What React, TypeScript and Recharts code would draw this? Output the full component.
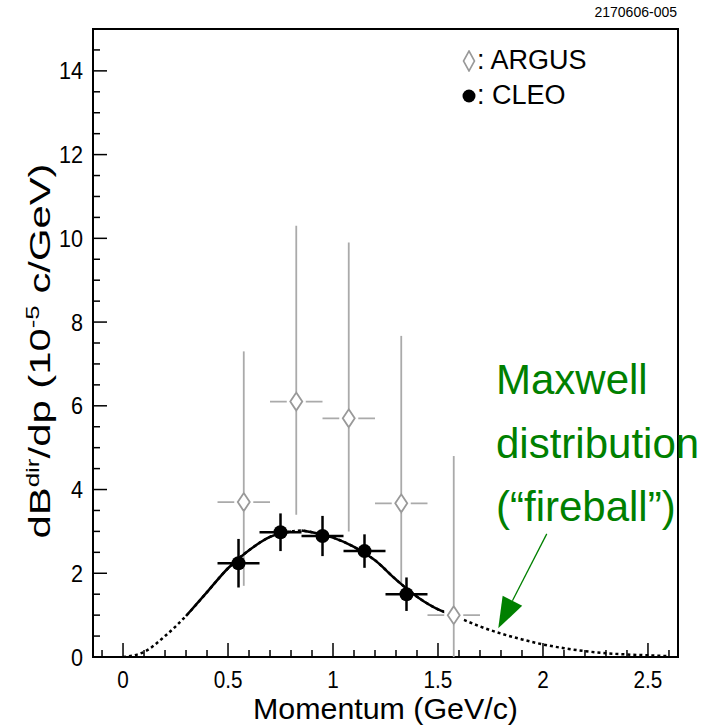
import React from "react";
import {
  ComposedChart,
  Line,
  Scatter,
  ErrorBar,
  XAxis,
  YAxis,
  ReferenceArea,
  ReferenceLine,
  Legend,
} from "recharts";

const FONT = "'Liberation Sans', Arial, Helvetica, sans-serif";

// axis ticks (minor every 0.1 / 0.5, labels on majors)
const xTicks = [
  -0.1, 0, 0.1, 0.2, 0.3, 0.4, 0.5, 0.6, 0.7, 0.8, 0.9, 1, 1.1, 1.2, 1.3, 1.4,
  1.5, 1.6, 1.7, 1.8, 1.9, 2, 2.1, 2.2, 2.3, 2.4, 2.5, 2.6,
];
const xLabels = [0, 0.5, 1, 1.5, 2, 2.5];
const yTicks = [
  0, 0.5, 1, 1.5, 2, 2.5, 3, 3.5, 4, 4.5, 5, 5.5, 6, 6.5, 7, 7.5, 8, 8.5, 9,
  9.5, 10, 10.5, 11, 11.5, 12, 12.5, 13, 13.5, 14, 14.5,
];
const yLabels = [0, 2, 4, 6, 8, 10, 12, 14];

// ARGUS
const argusP = [0.575, 0.825, 1.075, 1.325, 1.575];
const argusV = [3.7, 6.1, 5.7, 3.67, 1.0];
const argusErrLow = [2.0, 2.7, 2.7, 1.9, 1.0];
const argusErrHigh = [3.6, 4.2, 4.2, 4.0, 3.8];
const argusHalfBin = [0.125, 0.125, 0.125, 0.125, 0.125];

// CLEO
const cleoP = [0.55, 0.75, 0.95, 1.15, 1.35];
const cleoV = [2.24, 2.98, 2.89, 2.53, 1.5];
const cleoErr = [0.58, 0.45, 0.48, 0.4, 0.4];
const cleoHalfBin = [0.1, 0.1, 0.1, 0.1, 0.1];

// Maxwell curve; solid over the fitted range
const curveP = [
  0, 0.1, 0.2, 0.3, 0.4, 0.5, 0.6, 0.7, 0.8, 0.82, 0.85, 0.9, 1.0, 1.1, 1.2,
  1.3, 1.4, 1.5, 1.575, 1.6, 1.7, 1.8, 1.9, 2.0, 2.1, 2.2, 2.3, 2.4, 2.5, 2.6,
];
const curveV = [
  0, 0.12, 0.5, 0.98, 1.55, 2.12, 2.55, 2.87, 3.0, 3.01, 3.02, 2.98, 2.85,
  2.63, 2.31, 1.85, 1.44, 1.14, 1.0, 0.94, 0.73, 0.56, 0.42, 0.3, 0.21, 0.14,
  0.09, 0.06, 0.04, 0.02,
];
const curveSolid = [
  null, null, null, 0.98, 1.55, 2.12, 2.55, 2.87, 3.0, null, 3.02, 2.98, 2.85,
  2.63, 2.31, 1.85, 1.44, 1.14, 1.0, null, null, null, null, null, null, null,
  null, null, null, null,
];

const curveData = curveP.map((p, i) => ({ p, v: curveV[i], s: curveSolid[i] }));
const argusData = argusP.map((p, i) => ({
  p,
  v: argusV[i],
  ex: argusHalfBin[i],
  ey: [argusErrLow[i], argusErrHigh[i]],
}));
const cleoData = cleoP.map((p, i) => ({
  p,
  v: cleoV[i],
  ex: cleoHalfBin[i],
  ey: cleoErr[i],
}));

const XTick = (props: any) => {
  const { x, y, payload } = props;
  const major = xLabels.includes(payload.value);
  return (
    <g>
      <line x1={x} y1={y} x2={x} y2={y - (major ? 14 : 7)} stroke="#000" strokeWidth={1.5} />
      {major && (
        <text
          transform={`translate(${x},${y + 31}) scale(0.9,1)`}
          textAnchor="middle"
          fontSize={23}
          fontFamily={FONT}
          fill="#000"
        >
          {payload.value}
        </text>
      )}
    </g>
  );
};

const YTick = (props: any) => {
  const { x, y, payload } = props;
  const major = yLabels.includes(payload.value);
  return (
    <g>
      <line x1={x} y1={y} x2={x + (major ? 14 : 7)} y2={y} stroke="#000" strokeWidth={1.5} />
      {major && (
        <text
          transform={`translate(${x - 10},${y + 8.5}) scale(0.9,1)`}
          textAnchor="end"
          fontSize={24}
          fontFamily={FONT}
          fill="#000"
        >
          {payload.value}
        </text>
      )}
    </g>
  );
};

const YTitle = (props: any) => {
  const { viewBox } = props;
  const cx = viewBox.x + 50;
  const cy = viewBox.y + viewBox.height / 2 + 8;
  return (
    <text
      x={cx}
      y={cy}
      transform={`rotate(-90 ${cx} ${cy})`}
      textAnchor="middle"
      fontSize={29}
      textLength={375}
      lengthAdjust="spacingAndGlyphs"
      fontFamily={FONT}
      fill="#000"
    >
      dB
      <tspan dy={-11} fontSize={18}>dir</tspan>
      <tspan dy={11}>/dp (10</tspan>
      <tspan dy={-11} fontSize={18}>-5</tspan>
      <tspan dy={11}> c/GeV)</tspan>
    </text>
  );
};

const XTitle = (props: any) => {
  const { viewBox } = props;
  return (
    <text
      x={viewBox.x + viewBox.width / 2}
      y={viewBox.y + 62}
      textAnchor="middle"
      fontSize={30}
      textLength={265}
      lengthAdjust="spacingAndGlyphs"
      fontFamily={FONT}
      fill="#000"
    >
      Momentum (GeV/c)
    </text>
  );
};

const Diamond = (props: any) => {
  const { cx, cy } = props;
  return (
    <g>
      <rect x={cx - 9.5} y={cy - 9.5} width={19} height={19} fill="#fff" />
      <polygon
        points={`${cx},${cy - 9} ${cx + 6},${cy} ${cx},${cy + 9} ${cx - 6},${cy}`}
        fill="#fff"
        stroke="#999"
        strokeWidth={1.8}
      />
    </g>
  );
};

const Dot = (props: any) => <circle cx={props.cx} cy={props.cy} r={7} fill="#000" />;

const Arrow = (props: any) => {
  const { x1, y1, x2, y2 } = props;
  const dx = x2 - x1;
  const dy = y2 - y1;
  const len = Math.sqrt(dx * dx + dy * dy);
  const ux = dx / len;
  const uy = dy / len;
  const bx = x2 - ux * 31;
  const by = y2 - uy * 31;
  return (
    <g>
      <line x1={x1} y1={y1} x2={bx} y2={by} stroke="#008000" strokeWidth={1.3} />
      <polygon
        points={`${x2},${y2} ${bx - uy * 11},${by + ux * 11} ${bx + uy * 11},${by - ux * 11}`}
        fill="#008000"
      />
    </g>
  );
};

const LegendBox = (props: any) => (
  <div style={{ fontFamily: FONT, fontSize: 27, color: "#000" }}>
    {(props.payload || [])
      .filter((e: any) => e.value === "ARGUS" || e.value === "CLEO")
      .map((e: any) => (
        <div key={e.value} style={{ display: "flex", alignItems: "center", height: 35 }}>
          <svg width={14} height={22} style={{ marginRight: 1 }}>
            {e.value === "ARGUS" ? (
              <polygon points="7,1 12.5,11 7,21 1.5,11" fill="#fff" stroke="#999" strokeWidth={1.6} />
            ) : (
              <circle cx={7} cy={11} r={6.5} fill="#000" />
            )}
          </svg>
          <span style={{ lineHeight: "35px" }}>: {e.value}</span>
        </div>
      ))}
  </div>
);

export default function App() {
  return (
    <div style={{ position: "absolute", left: 0, top: 0, width: 715, height: 728, background: "#fff" }}>
      <ComposedChart
        width={715}
        height={728}
        data={curveData}
        margin={{ top: 29, right: 37, left: 0, bottom: 0 }}
      >
        <XAxis
          type="number"
          dataKey="p"
          domain={[-0.143, 2.643]}
          allowDataOverflow
          ticks={xTicks}
          interval={0}
          tickSize={0}
          tickMargin={0}
          axisLine={false}
          tickLine={false}
          tick={<XTick />}
          height={71}
          label={<XTitle />}
        />
        <YAxis
          type="number"
          domain={[0, 15]}
          allowDataOverflow
          ticks={yTicks}
          interval={0}
          tickSize={0}
          tickMargin={0}
          axisLine={false}
          tickLine={false}
          tick={<YTick />}
          width={93}
          label={<YTitle />}
        />
        <Legend
          content={<LegendBox />}
          layout="horizontal"
          verticalAlign="middle"
          align="center"
          wrapperStyle={{ top: 43, left: 462, width: 200 }}
        />
        <Scatter
          name="ARGUS"
          data={argusData}
          dataKey="v"
          shape={<Diamond />}
          isAnimationActive={false}
        >
          <ErrorBar dataKey="ey" direction="y" width={0} stroke="#aaa" strokeWidth={1.8} />
          <ErrorBar dataKey="ex" direction="x" width={0} stroke="#aaa" strokeWidth={1.8} />
        </Scatter>
        <Line
          dataKey="v"
          type="monotone"
          stroke="#000"
          strokeWidth={2.5}
          strokeDasharray="3 3"
          dot={false}
          activeDot={false}
          legendType="none"
          isAnimationActive={false}
        />
        <Line
          dataKey="s"
          type="monotone"
          stroke="#000"
          strokeWidth={2.5}
          dot={false}
          activeDot={false}
          legendType="none"
          isAnimationActive={false}
        />
        <Scatter
          name="CLEO"
          data={cleoData}
          dataKey="v"
          shape={<Dot />}
          isAnimationActive={false}
        >
          <ErrorBar dataKey="ey" direction="y" width={0} stroke="#000" strokeWidth={2.5} />
          <ErrorBar dataKey="ex" direction="x" width={0} stroke="#000" strokeWidth={2.5} />
        </Scatter>
        <ReferenceLine
          segment={[
            { x: 2.018, y: 2.94 },
            { x: 1.787, y: 0.685 },
          ]}
          shape={<Arrow />}
          ifOverflow="visible"
        />
        <ReferenceArea
          x1={-0.143}
          x2={2.643}
          y1={0}
          y2={15}
          fill="none"
          fillOpacity={0}
          stroke="#000"
          strokeWidth={2}
          ifOverflow="visible"
        />
      </ComposedChart>
      <div
        style={{
          position: "absolute",
          right: 38,
          top: 4,
          fontFamily: FONT,
          fontSize: 14,
          color: "#000",
        }}
      >
        2170606-005
      </div>
      <div
        style={{
          position: "absolute",
          left: 496,
          top: 348,
          fontFamily: FONT,
          fontSize: 42,
          lineHeight: "63.5px",
          color: "#008000",
          whiteSpace: "nowrap",
        }}
      >
        <div>Maxwell</div>
        <div>distribution</div>
        <div>(“fireball”)</div>
      </div>
    </div>
  );
}
